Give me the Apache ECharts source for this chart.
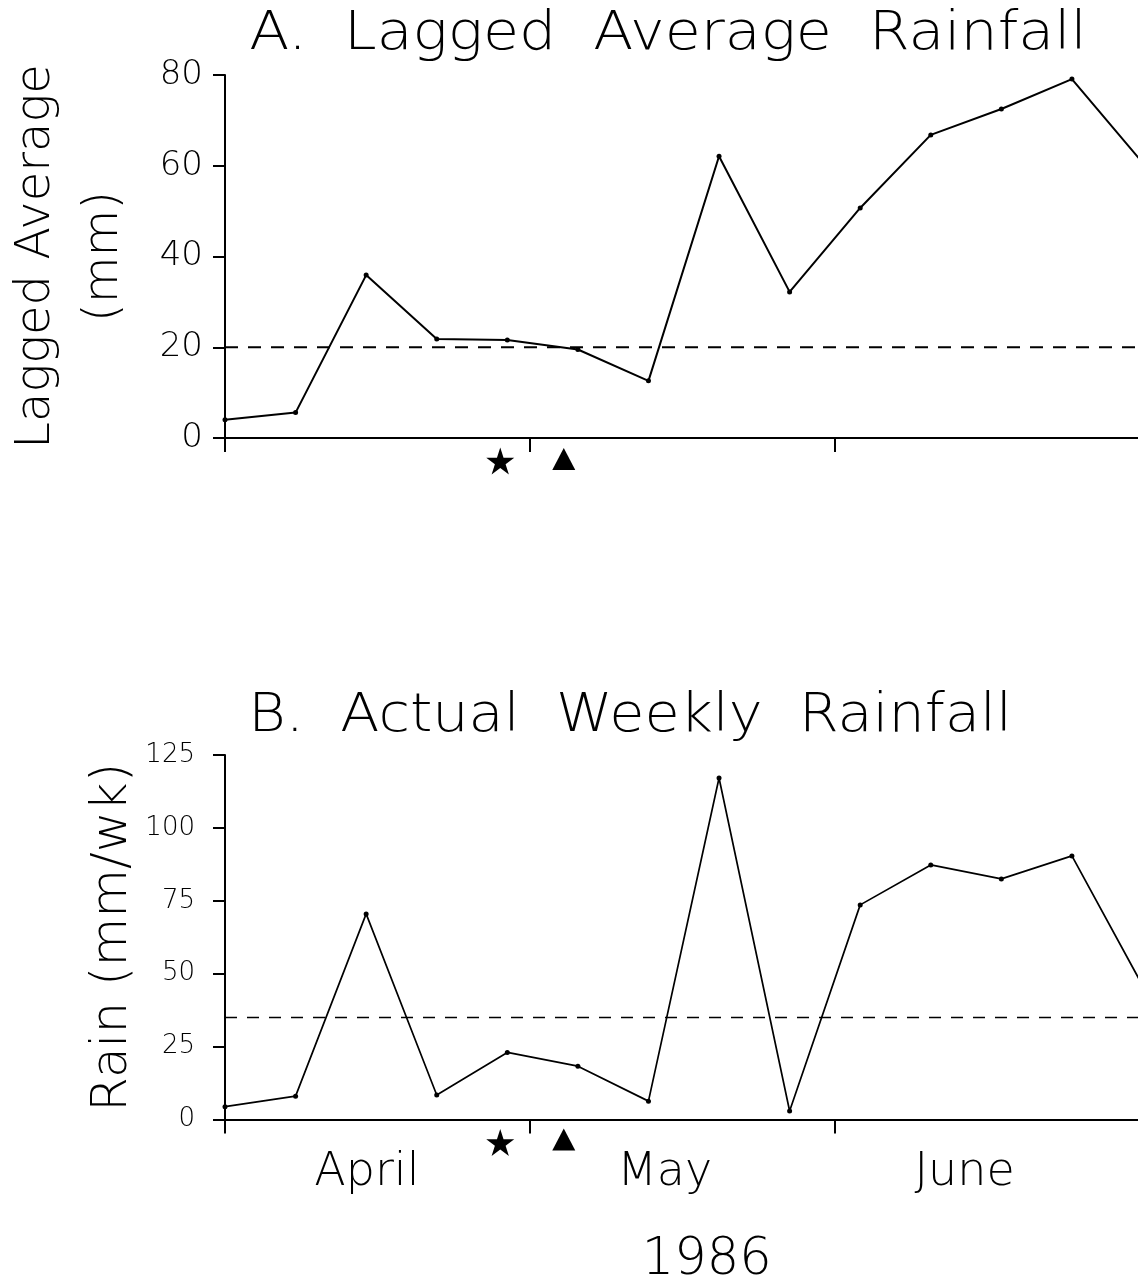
<!DOCTYPE html>
<html>
<head>
<meta charset="utf-8">
<script src="https://cdn.jsdelivr.net/npm/echarts@6/dist/echarts.min.js"></script>
<style>
  html, body { margin: 0; padding: 0; background: #ffffff; }
  #chart { width: 1138px; height: 1282px; }
</style>
</head>
<body>
<div id="chart"></div>
<script>
// Weeks counted from 1 April 1986
const weeks = [0, 1, 2, 3, 4, 5, 6, 7, 8, 9, 10, 11, 12, 13];
// A. lagged average rainfall (mm)
const laggedAvg = [4.0, 5.6, 35.9, 21.8, 21.6, 19.5, 12.6, 62.1, 32.2, 50.7, 66.8, 72.5, 79.1, 60.7];
// B. actual weekly rainfall (mm/wk)
const weeklyRain = [4.4, 8.0, 70.5, 8.4, 23.0, 18.3, 6.3, 117.1, 2.9, 73.6, 87.3, 82.5, 90.4, 46.0];
// reference levels drawn dashed
const laggedLevel = 20;
const rainLevel = 35;
// event weeks marked under the axes
const starWeek = 3.9;
const triangleWeek = 4.8;
// month labels and where they sit (weeks)
const monthNames = ['April', 'May', 'June'];
const monthLabelWeeks = [2.01, 6.23, 10.48];
const monthLength = 4.32; // weeks between month ticks
const yearLabel = '1986';
// panel titles
const titleA = 'A.  Lagged  Average  Rainfall';
const titleB = 'B.  Actual  Weekly  Rainfall';
// y-axis tick settings
const laggedTicks = { min: 0, max: 80, interval: 20 };
const rainTicks = { min: 0, max: 125, interval: 25 };

const FONT = 'DejaVu Sans';
const W = 200;
const STAR = 'path://M50,0L61.2,34.5L97.6,34.5L68.2,55.9L79.4,90.5L50,69.1L20.6,90.5L31.8,55.9L2.4,34.5L38.8,34.5Z';

const pairs = (vals) => weeks.map((w, i) => [w, vals[i]]);
const xMax = weeks[weeks.length - 1];

function xAxisFor(gridIndex, extra) {
  return Object.assign({
    type: 'value', gridIndex: gridIndex,
    min: 0, max: xMax, interval: monthLength,
    axisLine: { show: true, onZero: false, lineStyle: { color: '#000', width: 2 } },
    axisTick: { show: true, inside: false, length: 14, lineStyle: { color: '#000', width: 2 } },
    axisLabel: { show: false },
    splitLine: { show: false }
  }, extra || {});
}

function yAxisFor(gridIndex, ticks, name, nameGap, nameSize, lineH, labelSize, labelMargin) {
  return {
    type: 'value', gridIndex: gridIndex,
    min: ticks.min, max: ticks.max, interval: ticks.interval,
    name: name, nameLocation: 'middle', nameRotate: 90, nameGap: nameGap,
    nameMoveOverlap: false,
    nameTextStyle: { fontFamily: FONT, fontWeight: W, fontSize: nameSize, lineHeight: lineH, color: '#000' },
    axisLine: { show: true, onZero: false, lineStyle: { color: '#000', width: 2 } },
    axisTick: { show: true, inside: false, length: 12, lineStyle: { color: '#000', width: 2 } },
    axisLabel: {
      fontFamily: FONT, fontWeight: W, fontSize: labelSize, color: '#000',
      margin: labelMargin, align: 'right', verticalAlign: 'middle', hideOverlap: false
    },
    splitLine: { show: false }
  };
}

function dataLine(idx, vals, width) {
  return {
    type: 'line', xAxisIndex: idx, yAxisIndex: idx,
    data: pairs(vals),
    symbol: 'circle', symbolSize: 5, showSymbol: true,
    lineStyle: { color: '#000', width: width },
    itemStyle: { color: '#000', opacity: 1 },
    animation: false, z: 5
  };
}

function levelLine(idx, level, width, dash) {
  return {
    type: 'line', xAxisIndex: idx, yAxisIndex: idx,
    data: [[0, level], [xMax, level]],
    symbol: 'none',
    lineStyle: { color: '#000', width: width, type: dash },
    animation: false, z: 3
  };
}

function eventMarks(idx, starOff, triOff) {
  return [
    {
      type: 'scatter', xAxisIndex: idx, yAxisIndex: idx, clip: false,
      data: [[starWeek, 0]], symbol: STAR, symbolSize: [28, 27], symbolOffset: [0, starOff],
      itemStyle: { color: '#000', opacity: 1 }, animation: false, silent: true
    },
    {
      type: 'scatter', xAxisIndex: idx, yAxisIndex: idx, clip: false,
      data: [[triangleWeek, 0]], symbol: 'triangle', symbolSize: [23, 22], symbolOffset: [0, triOff],
      itemStyle: { color: '#000', opacity: 1 }, animation: false, silent: true
    }
  ];
}

function titleText(text, cx, cy, sx) {
  return {
    type: 'text', x: cx, y: cy, scaleX: sx, silent: true,
    style: {
      text: text, fill: '#000',
      font: W + ' 53px "' + FONT + '"',
      textAlign: 'center', textVerticalAlign: 'middle'
    }
  };
}

const chart = echarts.init(document.getElementById('chart'), null, { renderer: 'canvas' });

chart.setOption({
  backgroundColor: '#ffffff',
  animation: false,
  graphic: [
    titleText(titleA, 668, 35, 1.105),
    titleText(titleB, 630, 717, 1.08)
  ],
  grid: [
    { left: 225, top: 75, width: 917.5, height: 363, containLabel: false, outerBoundsMode: 'none' },
    { left: 225, top: 755, width: 917.5, height: 364.5, containLabel: false, outerBoundsMode: 'none' }
  ],
  xAxis: [
    xAxisFor(0),
    xAxisFor(1, {
      name: yearLabel, nameLocation: 'middle', nameGap: 116, nameMoveOverlap: false,
      nameTextStyle: { fontFamily: FONT, fontWeight: W, fontSize: 51, lineHeight: 51, color: '#000', padding: [0, 0, 0, 46] }
    })
  ],
  yAxis: [
    yAxisFor(0, laggedTicks, 'Lagged Average\n(mm)', 86, 48, 68, 34, 22),
    yAxisFor(1, rainTicks, 'Rain (mm/wk)', 87, 50, 50, 26, 30)
  ],
  series: [
    levelLine(0, laggedLevel, 2, [13, 10]),
    dataLine(0, laggedAvg, 2),
    ...eventMarks(0, 23, 21),
    levelLine(1, rainLevel, 1.6, [12, 10]),
    dataLine(1, weeklyRain, 1.7),
    ...eventMarks(1, 23, 20),
    {
      type: 'scatter', xAxisIndex: 1, yAxisIndex: 1, clip: false,
      data: monthNames.map((m, i) => [monthLabelWeeks[i], 0, m]),
      symbolSize: 0, itemStyle: { color: 'rgba(0,0,0,0)', opacity: 1 },
      label: {
        show: true, position: 'bottom', distance: 31,
        formatter: (p) => p.value[2],
        fontFamily: FONT, fontWeight: W, fontSize: 46, lineHeight: 46, color: '#000', opacity: 1
      },
      animation: false, silent: true
    }
  ]
});
</script>
</body>
</html>
